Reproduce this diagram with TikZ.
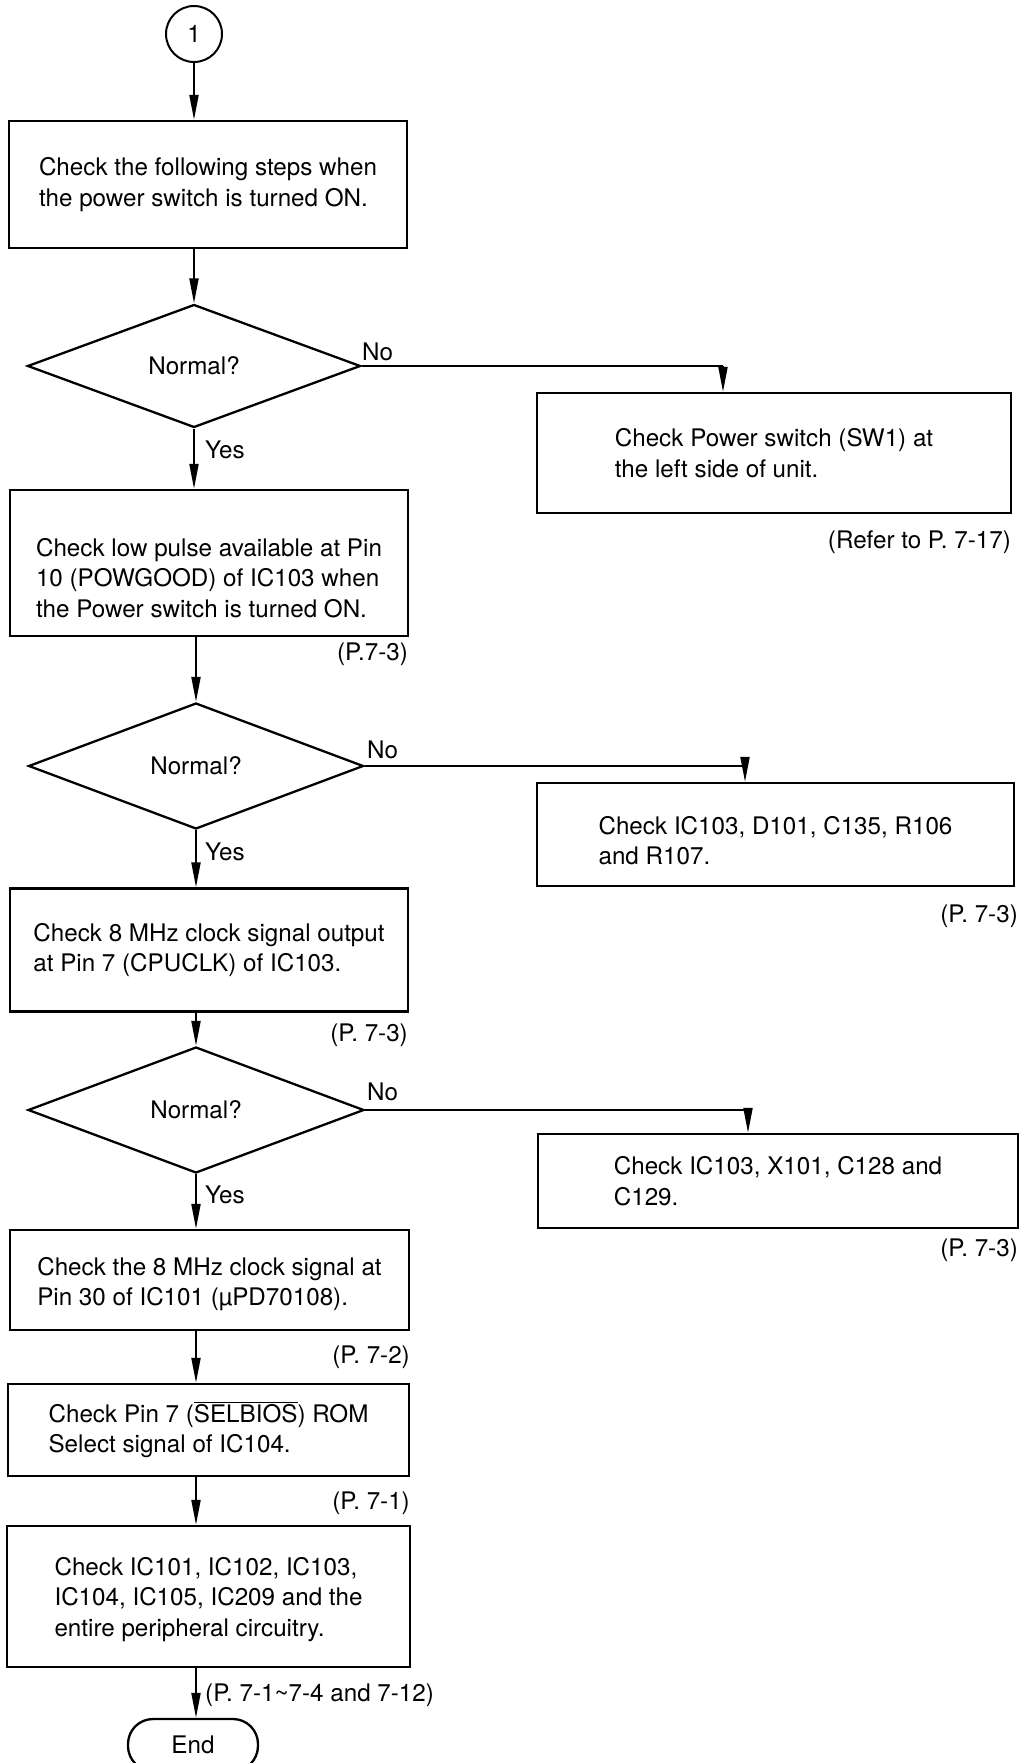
\documentclass[tikz,border=0pt]{standalone}
\usepackage{fontspec}
\setmainfont{TeX Gyre Heros}
\usetikzlibrary{shapes.geometric,arrows.meta}
\newcommand\pushtop[1]{\rule{0pt}{#1}}
\begin{document}
\begin{tikzpicture}[x=1pt,y=-1pt,
  font=\fontsize{24.2}{30.5}\selectfont,
  procbox/.style={draw,line width=2.3pt,rectangle,align=left,inner sep=0pt},
  decbox/.style={draw,line width=2.3pt,diamond,inner sep=0pt},
  conn/.style={line width=2pt,-{Triangle[length=25pt,width=9pt]}},
  plain/.style={line width=2pt},
  lab/.style={inner sep=0pt},
  note/.style={inner sep=0pt,anchor=east}]
\useasboundingbox (0,0) rectangle (1026,1763);

% start connector
\node[draw,circle,line width=2pt,minimum size=56pt,inner sep=0pt] (c1) at (194,34) {1};

\node[procbox,minimum width=398pt,minimum height=127pt] (b1) at (208,184.5)
  {Check the following steps when\\the power switch is turned ON.};

\node[decbox,minimum width=333pt,minimum height=123pt] (d1) at (194,366) {Normal?};
\node[procbox,minimum width=474pt,minimum height=120pt] (r1) at (774,453)
  {Check Power switch (SW1) at\\the left side of unit.};
\node[note] (n1) at (1011,542) {(Refer to P. 7-17)};
\coordinate (k1) at (723,366);

\node[procbox,minimum width=398pt,minimum height=146pt] (b2) at (209,563)
  {\pushtop{48pt}Check low pulse available at Pin\\10 (POWGOOD) of IC103 when\\the Power switch is turned ON.};
\node[note] (n2) at (408,654) {(P.7-3)};

\node[decbox,minimum width=335pt,minimum height=126pt] (d2) at (196,766) {Normal?};
\node[procbox,minimum width=477pt,minimum height=103pt] (r2) at (775.5,834.5)
  {\pushtop{30pt}Check IC103, D101, C135, R106\\and R107.};
\node[note] (n3) at (1018,916) {(P. 7-3)};
\coordinate (k2) at (745,766);

\node[procbox,minimum width=398pt,minimum height=123pt] (b3) at (209,950)
  {Check 8 MHz clock signal output\\at Pin 7 (CPUCLK) of IC103.};
\node[note] (n4) at (408,1035) {(P. 7-3)};

\node[decbox,minimum width=336pt,minimum height=126pt] (d3) at (196,1110) {Normal?};
\node[procbox,minimum width=480pt,minimum height=94pt] (r3) at (778,1181)
  {Check IC103, X101, C128 and\\C129.};
\node[note] (n5) at (1018,1250) {(P. 7-3)};
\coordinate (k3) at (748,1110);

\node[procbox,minimum width=399pt,minimum height=100pt] (b4) at (209.5,1280)
  {\pushtop{26pt}Check the 8 MHz clock signal at\\Pin 30 of IC101 (µPD70108).};
\node[note] (n6) at (410,1357) {(P. 7-2)};

\node[procbox,minimum width=401pt,minimum height=92pt] (b5) at (208.5,1430)
  {Check Pin 7 ($\overline{\mbox{SELBIOS}}$) ROM\\Select signal of IC104.};
\node[note] (n7) at (410,1503) {(P. 7-1)};

\node[procbox,minimum width=403pt,minimum height=141pt] (b6) at (208.5,1596.5)
  {\pushtop{24pt}Check IC101, IC102, IC103,\\IC104, IC105, IC209 and the\\entire peripheral circuitry.};
\node[lab,anchor=west] (n8) at (205,1695) {(P. 7-1\textasciitilde 7-4 and 7-12)};

\node[draw,line width=2.3pt,rectangle,rounded corners=25pt,minimum width=130pt,minimum height=52pt,inner sep=0pt] (e) at (193,1745) {End};

% labels
\node[lab,anchor=west] (no1) at (362,352) {No};
\node[lab,anchor=west] (yes1) at (205,450) {Yes};
\node[lab,anchor=west] (no2) at (367,750) {No};
\node[lab,anchor=west] (yes2) at (205,852) {Yes};
\node[lab,anchor=west] (no3) at (367,1092) {No};
\node[lab,anchor=west] (yes3) at (205,1195) {Yes};

% connectors
\draw[conn] (c1.south) -- (c1.south |- b1.north);
\draw[conn] (d1.north |- b1.south) -- (d1.north);
\draw[conn] (d1.south) -- (d1.south |- b2.north);
\draw[plain] (d1.east) -- (k1);
\draw[conn] (k1) -- (k1 |- r1.north);
\draw[conn] (d2.north |- b2.south) -- (d2.north);
\draw[conn] (d2.south) -- (d2.south |- b3.north);
\draw[plain] (d2.east) -- (k2);
\draw[conn] (k2) -- (k2 |- r2.north);
\draw[conn] (d3.north |- b3.south) -- (d3.north);
\draw[conn] (d3.south) -- (d3.south |- b4.north);
\draw[plain] (d3.east) -- (k3);
\draw[conn] (k3) -- (k3 |- r3.north);
\draw[conn] (d3.south |- b4.south) -- (d3.south |- b5.north);
\draw[conn] (d3.south |- b5.south) -- (d3.south |- b6.north);
\draw[conn] (d3.south |- b6.south) -- (d3.south |- e.north);
\end{tikzpicture}
\end{document}
